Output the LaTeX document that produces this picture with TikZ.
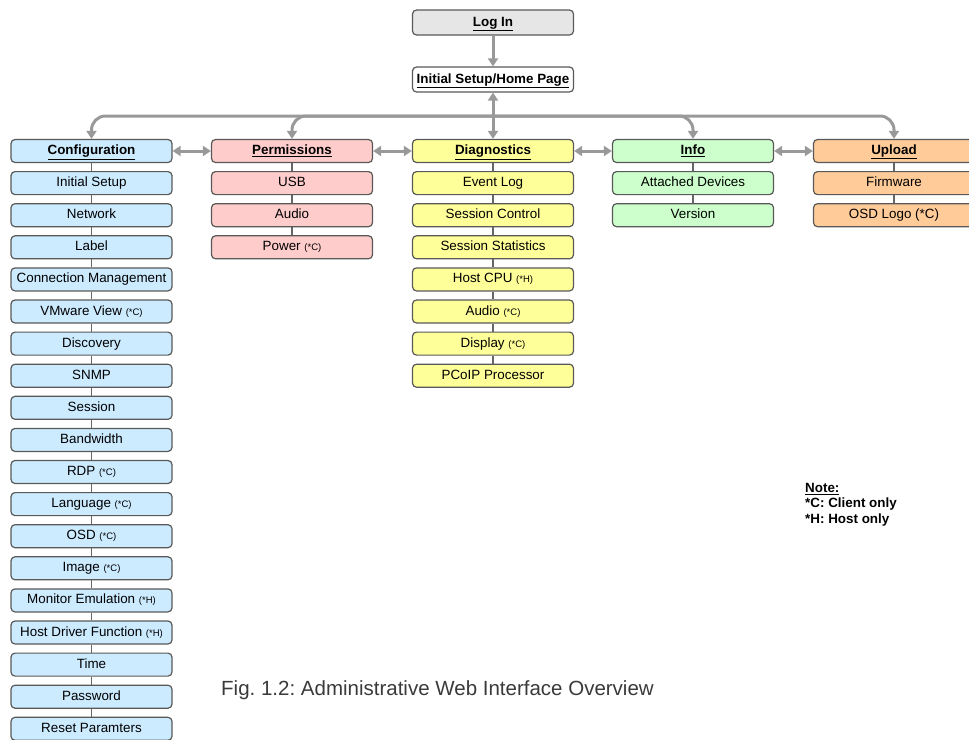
\documentclass[tikz,border=0pt]{standalone}
\usepackage{fontspec}
\setmainfont{Liberation Sans}
\usetikzlibrary{positioning,arrows.meta}
\frenchspacing

\definecolor{boxedge}{HTML}{595959}
\definecolor{arrowgray}{HTML}{999999}
\definecolor{stemgray}{HTML}{666666}
\definecolor{logingray}{HTML}{E6E6E6}
\definecolor{cfgblue}{HTML}{CCEBFF}
\definecolor{permred}{HTML}{FFCCCC}
\definecolor{diagyellow}{HTML}{FFFF99}
\definecolor{infogreen}{HTML}{CCFFCC}
\definecolor{uploadorange}{HTML}{FFCC99}
\definecolor{capgray}{HTML}{3A3A3A}

\newcommand{\clientonly}{{\fontsize{9.5}{10}\selectfont(*C)}}
\newcommand{\hostonly}{{\fontsize{9.5}{10}\selectfont(*H)}}

\tikzset{
  menubox/.style={draw=boxedge, line width=1.2pt, rounded corners=4pt,
                  minimum width=161pt, minimum height=23pt, inner sep=0pt,
                  text height=9.8pt, text depth=2.8pt,
                  font=\fontsize{13.4}{14}\selectfont},
  headbox/.style={menubox, font=\bfseries\fontsize{13.4}{14}\selectfont},
  topbox/.style={headbox, minimum height=25pt},
  navarrow/.style={draw=arrowgray, line width=3pt, -{Triangle[width=10pt,length=8pt]}},
  twoway/.style={navarrow, {Triangle[width=10pt,length=8pt]}-{Triangle[width=10pt,length=8pt]}},
  stem/.style={draw=stemgray, line width=1.4pt}
}

\begin{document}
\begin{tikzpicture}[x=1pt, y=-1pt]
\useasboundingbox (0,0) rectangle (969,739);

% entry pages
\node[topbox, fill=logingray] (login) at (493,22.5) {\underline{Log In}};
\node[topbox, fill=white] (home) at (493,79.5) {\underline{Initial Setup/Home Page}};
\coordinate (hub) at (493,116);

% menu headers
\node[headbox, fill=cfgblue]      (cfg0)  at (91.5,151) {\underline{Configuration}};
\node[headbox, fill=permred]      (perm0) at (292,151)  {\underline{Permissions}};
\node[headbox, fill=diagyellow]   (diag0) at (493,151)  {\underline{Diagnostics}};
\node[headbox, fill=infogreen]    (info0) at (693,151)  {\underline{Info}};
\node[headbox, fill=uploadorange] (upl0)  at (894,151)  {\underline{Upload}};

% configuration pages
\foreach \txt [count=\i] in {Initial Setup, Network, Label, Connection Management,
    VMware View \clientonly, Discovery, SNMP, Session, Bandwidth, RDP \clientonly,
    Language \clientonly, OSD \clientonly, Image \clientonly,
    Monitor Emulation \hostonly, Host Driver Function \hostonly, Time, Password,
    Reset Paramters}{
  \pgfmathtruncatemacro\prev{\i-1}
  \node[menubox, fill=cfgblue, below=7.9pt of cfg\prev] (cfg\i) {\txt};
  \draw[stem] (cfg\prev) -- (cfg\i);
}

% permissions pages
\foreach \txt [count=\i] in {USB, Audio, Power \clientonly}{
  \pgfmathtruncatemacro\prev{\i-1}
  \node[menubox, fill=permred, below=7.9pt of perm\prev] (perm\i) {\txt};
  \draw[stem] (perm\prev) -- (perm\i);
}

% diagnostics pages
\foreach \txt [count=\i] in {Event Log, Session Control, Session Statistics,
    Host CPU \hostonly, Audio \clientonly, Display \clientonly, PCoIP Processor}{
  \pgfmathtruncatemacro\prev{\i-1}
  \node[menubox, fill=diagyellow, below=7.9pt of diag\prev] (diag\i) {\txt};
  \draw[stem] (diag\prev) -- (diag\i);
}

% info pages
\foreach \txt [count=\i] in {Attached Devices, Version}{
  \pgfmathtruncatemacro\prev{\i-1}
  \node[menubox, fill=infogreen, below=7.9pt of info\prev] (info\i) {\txt};
  \draw[stem] (info\prev) -- (info\i);
}

% upload pages
\foreach \txt [count=\i] in {Firmware, OSD Logo (*C)}{
  \pgfmathtruncatemacro\prev{\i-1}
  \node[menubox, fill=uploadorange, below=7.9pt of upl\prev] (upl\i) {\txt};
  \draw[stem] (upl\prev) -- (upl\i);
}

% navigation
\draw[navarrow] (login) -- (home);
\draw[twoway] (home) -- (diag0);
\foreach \dest in {cfg0, perm0, info0, upl0}
  \draw[navarrow, rounded corners=14pt] (hub) -| (\dest.north);
\draw[twoway] (cfg0) -- (perm0);
\draw[twoway] (perm0) -- (diag0);
\draw[twoway] (diag0) -- (info0);
\draw[twoway] (info0) -- (upl0);

% legend and caption
\node[anchor=north west, align=left, inner sep=0pt,
      font=\bfseries\fontsize{13.4}{15.5}\selectfont] (note) at (805,483)
  {\underline{Note:}\\*C: Client only\\*H: Host only};
\node[anchor=west, inner sep=0pt, text=capgray,
      font=\fontsize{20.5}{24}\selectfont] (caption) at (221,690)
  {Fig. 1.2: Administrative Web Interface Overview};
\end{tikzpicture}
\end{document}
